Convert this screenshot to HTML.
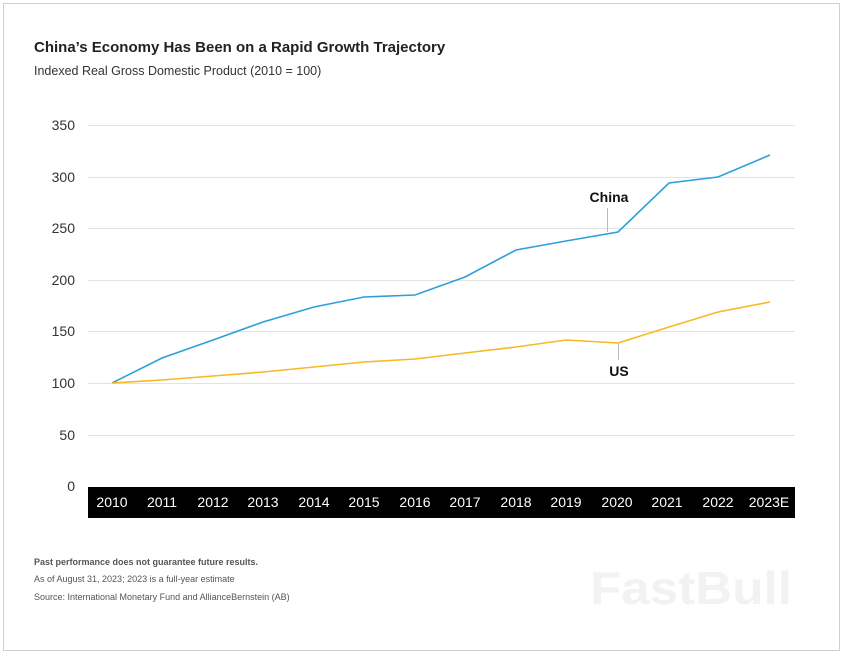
<!DOCTYPE html>
<html><head><meta charset="utf-8"><style>
body{margin:0;background:#fff;width:844px;height:655px;overflow:hidden;font-family:"Liberation Sans",sans-serif}
</style></head><body>
<svg width="844" height="655" xmlns="http://www.w3.org/2000/svg" font-family="Liberation Sans, sans-serif">
<rect x="3.5" y="3.5" width="836" height="647" fill="#fff" stroke="#cfcfcf"/>
<text x="590" y="604" font-size="46" font-weight="bold" fill="#f2f2f2" textLength="202" lengthAdjust="spacingAndGlyphs">FastBull</text>
<text x="34" y="52" font-size="15" font-weight="bold" fill="#222">China’s Economy Has Been on a Rapid Growth Trajectory</text>
<text x="34" y="75" font-size="12.5" fill="#333">Indexed Real Gross Domestic Product (2010 = 100)</text>
<g stroke="#e3e3e3" stroke-width="1">
<line x1="88" x2="795" y1="125.5" y2="125.5"/>
<line x1="88" x2="795" y1="177.5" y2="177.5"/>
<line x1="88" x2="795" y1="228.5" y2="228.5"/>
<line x1="88" x2="795" y1="280.5" y2="280.5"/>
<line x1="88" x2="795" y1="331.5" y2="331.5"/>
<line x1="88" x2="795" y1="383.5" y2="383.5"/>
<line x1="88" x2="795" y1="435.5" y2="435.5"/>
</g>
<g font-size="14" fill="#333" text-anchor="end">
<text x="75" y="130">350</text><text x="75" y="182">300</text><text x="75" y="233">250</text>
<text x="75" y="285">200</text><text x="75" y="336">150</text><text x="75" y="388">100</text>
<text x="75" y="440">50</text><text x="75" y="491">0</text>
</g>
<rect x="88" y="487" width="707" height="31" fill="#000"/>
<g font-size="14" fill="#fff" text-anchor="middle">
<text x="112" y="507">2010</text><text x="162" y="507">2011</text><text x="213" y="507">2012</text>
<text x="263" y="507">2013</text><text x="314" y="507">2014</text><text x="364" y="507">2015</text>
<text x="415" y="507">2016</text><text x="465" y="507">2017</text><text x="516" y="507">2018</text>
<text x="566" y="507">2019</text><text x="617" y="507">2020</text><text x="667" y="507">2021</text>
<text x="718" y="507">2022</text><text x="769" y="507">2023E</text>
</g>
<line x1="607.5" x2="607.5" y1="208" y2="232" stroke="#bbb"/>
<line x1="618.5" x2="618.5" y1="343" y2="360" stroke="#bbb"/>
<polyline fill="none" stroke="#2e9fd8" stroke-width="1.6" points="112,383 162,358 213,340 263,322 314,307 364,297 415,295 465,277 516,250 566,241 618,232 669,183 718,177 770,155"/>
<polyline fill="none" stroke="#f8b822" stroke-width="1.6" points="112,383 162,380 213,376 263,372 314,367 364,362 415,359 465,353 516,347 566,340 618,343 669,327 718,312 770,302"/>
<text x="609" y="202" font-size="14" font-weight="bold" fill="#111" text-anchor="middle">China</text>
<text x="619" y="376" font-size="14" font-weight="bold" fill="#111" text-anchor="middle">US</text>
<text x="34" y="565" font-size="9" font-weight="bold" fill="#555">Past performance does not guarantee future results.</text>
<text x="34" y="582" font-size="9" fill="#555">As of August 31, 2023; 2023 is a full-year estimate</text>
<text x="34" y="600" font-size="9" fill="#555">Source: International Monetary Fund and AllianceBernstein (AB)</text>
</svg>
</body></html>
